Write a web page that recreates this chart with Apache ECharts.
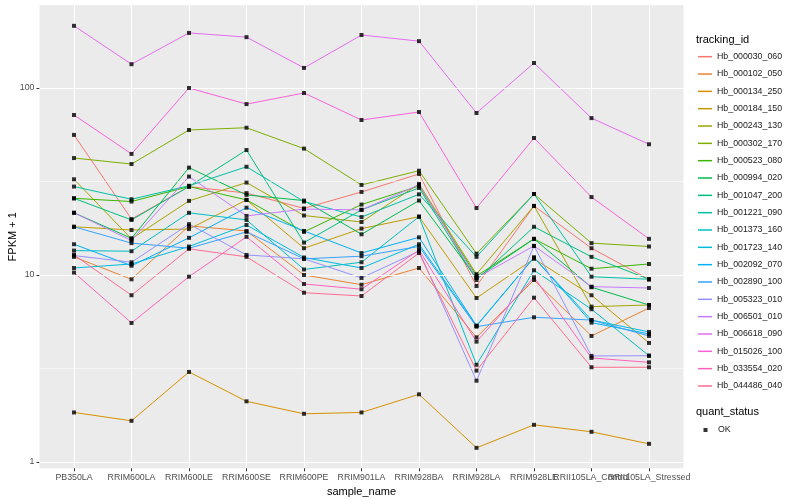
<!DOCTYPE html>
<html>
<head>
<meta charset="utf-8">
<script src="https://cdn.jsdelivr.net/npm/echarts@6/dist/echarts.min.js"></script>
<style>html,body{margin:0;padding:0;background:#fff}#c{width:800px;height:500px}</style>
</head>
<body>
<div id="c"></div>
<script>
const categories = ['PB350LA','RRIM600LA','RRIM600LE','RRIM600SE','RRIM600PE','RRIM901LA','RRIM928BA','RRIM928LA','RRIM928LE','RRII105LA_Control','RRII105LA_Stressed'];

const Hb_000030_060 = [56.1, 19.9, 29.7, 27.4, 22.7, 27.8, 34.7, 8.73, 23.4, 13.9, 9.48];
const Hb_000102_050 = [12.5, 9.48, 18.3, 17.2, 10.0, 8.87, 10.9, 4.64, 9.40, 4.72, 6.66];
const Hb_000134_250 = [1.84, 1.66, 3.03, 2.11, 1.81, 1.84, 2.30, 1.19, 1.58, 1.45, 1.25];
const Hb_000184_150 = [18.1, 17.4, 17.6, 25.2, 13.9, 17.7, 20.5, 7.53, 12.2, 7.79, 4.33];
const Hb_000243_130 = [32.5, 15.6, 24.9, 31.2, 20.8, 19.2, 30.7, 10.1, 23.4, 6.77, 6.91];
const Hb_000302_170 = [42.2, 39.2, 59.6, 61.3, 47.4, 30.3, 36.1, 13.0, 27.1, 14.8, 14.2];
const Hb_000523_080 = [25.7, 24.7, 29.7, 25.2, 17.0, 23.8, 29.9, 9.88, 15.6, 10.8, 11.45];
const Hb_000994_020 = [21.5, 15.7, 37.5, 26.8, 25.0, 16.5, 25.0, 9.64, 15.6, 8.60, 6.91];
const Hb_001047_200 = [25.7, 19.7, 29.7, 46.6, 14.9, 22.3, 29.2, 9.40, 18.1, 12.5, 9.48];
const Hb_001221_090 = [29.7, 25.4, 30.0, 37.9, 24.7, 20.4, 27.0, 12.5, 27.1, 9.79, 9.48];
const Hb_001373_160 = [13.5, 13.4, 21.5, 19.7, 10.7, 11.7, 20.5, 3.31, 10.6, 6.56, 3.70];
const Hb_001723_140 = [10.9, 11.45, 14.2, 18.5, 12.4, 10.9, 14.6, 5.34, 12.4, 5.74, 4.96];
const Hb_002092_070 = [14.6, 11.2, 15.8, 22.9, 17.2, 13.1, 15.9, 5.36, 12.4, 5.56, 4.84];
const Hb_002890_100 = [18.1, 14.8, 13.9, 17.0, 12.2, 12.6, 14.2, 5.29, 5.94, 5.74, 4.72];
const Hb_005323_010 = [12.7, 11.7, 18.7, 12.8, 12.2, 9.64, 13.4, 2.72, 14.3, 3.69, 3.70];
const Hb_006501_010 = [21.5, 15.3, 33.6, 20.7, 22.5, 22.3, 30.3, 9.64, 14.3, 8.66, 8.52];
const Hb_006618_090 = [215, 134, 197, 187, 128, 192, 178, 73.5, 136, 69, 50];
const Hb_015026_100 = [71.7, 44.4, 100, 82, 94, 67.4, 74.4, 22.8, 54, 26.1, 15.6];
const Hb_033554_020 = [10.3, 5.54, 9.79, 16.0, 8.95, 8.39, 13.6, 4.40, 9.72, 3.60, 3.41];
const Hb_044486_040 = [12.8, 7.79, 13.8, 12.5, 8.04, 7.72, 13.1, 3.08, 7.56, 3.21, 3.21];

const yTicks = [1, 10, 100];
const yMinor = [3.1623, 31.623];

const seriesList = [
  ['Hb_000030_060', Hb_000030_060, '#F8766D'],
  ['Hb_000102_050', Hb_000102_050, '#EA8331'],
  ['Hb_000134_250', Hb_000134_250, '#D89000'],
  ['Hb_000184_150', Hb_000184_150, '#C09B00'],
  ['Hb_000243_130', Hb_000243_130, '#A3A500'],
  ['Hb_000302_170', Hb_000302_170, '#7CAE00'],
  ['Hb_000523_080', Hb_000523_080, '#39B600'],
  ['Hb_000994_020', Hb_000994_020, '#00BB4E'],
  ['Hb_001047_200', Hb_001047_200, '#00BF7D'],
  ['Hb_001221_090', Hb_001221_090, '#00C1A3'],
  ['Hb_001373_160', Hb_001373_160, '#00BFC4'],
  ['Hb_001723_140', Hb_001723_140, '#00BAE0'],
  ['Hb_002092_070', Hb_002092_070, '#00B0F6'],
  ['Hb_002890_100', Hb_002890_100, '#35A2FF'],
  ['Hb_005323_010', Hb_005323_010, '#9590FF'],
  ['Hb_006501_010', Hb_006501_010, '#C77CFF'],
  ['Hb_006618_090', Hb_006618_090, '#E76BF3'],
  ['Hb_015026_100', Hb_015026_100, '#FA62DB'],
  ['Hb_033554_020', Hb_033554_020, '#FF62BC'],
  ['Hb_044486_040', Hb_044486_040, '#FF6C91']
];

const FONT = 'Liberation Sans, Arial, sans-serif';
const YMIN = 0.925, YMAX = 276.8;

const pointData = [];
seriesList.forEach(s => s[1].forEach((v, i) => pointData.push([categories[i], v])));

const chart = echarts.init(document.getElementById('c'), null, {renderer: 'canvas'});

const series = [{
  type: 'line', xAxisIndex: 0, yAxisIndex: 0, data: [], silent: true,
  markLine: {
    silent: true, symbol: ['none', 'none'], label: {show: false}, animation: false,
    emphasis: {disabled: true},
    data: yTicks.map(v => ({yAxis: v, lineStyle: {color: '#fff', width: 1.1, type: 'solid'}}))
      .concat(yMinor.map(v => ({yAxis: v, lineStyle: {color: '#fff', width: 0.55, type: 'solid'}})))
  }
}];
seriesList.forEach(s => series.push({
  name: s[0], type: 'line', xAxisIndex: 1, yAxisIndex: 1, data: s[1],
  showSymbol: false, symbol: 'none', animation: false,
  lineStyle: {color: s[2], width: 1}, itemStyle: {color: s[2]},
  emphasis: {disabled: true}
}));
series.push({
  name: 'OK', type: 'scatter', xAxisIndex: 1, yAxisIndex: 1, data: pointData,
  symbol: 'rect', symbolSize: 4, itemStyle: {color: '#000'}, z: 5, animation: false,
  emphasis: {disabled: true}
});

chart.setOption({
  backgroundColor: '#fff',
  textStyle: {fontFamily: FONT},
  animation: false,
  title: [
    {text: 'tracking_id', left: 696, top: 34, padding: 0, textStyle: {fontSize: 11, fontWeight: 'normal', color: '#000', fontFamily: FONT}},
    {text: 'quant_status', left: 696, top: 406, padding: 0, textStyle: {fontSize: 11, fontWeight: 'normal', color: '#000', fontFamily: FONT}}
  ],
  grid: [
    {left: 39.5, top: 5.3, width: 644, height: 463, show: true, backgroundColor: '#EBEBEB', borderWidth: 0,
     containLabel: false, outerBoundsMode: 'none'},
    {left: 74, top: 5.3, width: 575, height: 463, show: false, containLabel: false, outerBoundsMode: 'none'}
  ],
  xAxis: [
    {type: 'category', gridIndex: 0, data: categories, show: false},
    {type: 'category', gridIndex: 1, data: categories, boundaryGap: false,
     axisLine: {show: false},
     axisTick: {show: true, length: 3, lineStyle: {color: '#333', width: 1}},
     axisLabel: {interval: 0, color: '#4D4D4D', fontSize: 8.8, margin: 5, fontFamily: FONT},
     splitLine: {show: true, interval: 0, lineStyle: {color: '#fff', width: 1.1}},
     name: 'sample_name', nameLocation: 'middle', nameGap: 18, nameMoveOverlap: false,
     nameTextStyle: {fontSize: 11, color: '#000', fontFamily: FONT}}
  ],
  yAxis: [
    {type: 'log', gridIndex: 0, min: YMIN, max: YMAX,
     axisLine: {show: false},
     axisTick: {show: true, length: 3, lineStyle: {color: '#333', width: 1}, customValues: yTicks},
     axisLabel: {color: '#4D4D4D', fontSize: 8.8, margin: 5, customValues: yTicks, fontFamily: FONT},
     splitLine: {show: false}, minorSplitLine: {show: false},
     name: 'FPKM + 1', nameLocation: 'middle', nameGap: 21, nameRotate: 90, nameMoveOverlap: false,
     nameTextStyle: {fontSize: 11, color: '#000', fontFamily: FONT}},
    {type: 'log', gridIndex: 1, min: YMIN, max: YMAX, show: false, splitLine: {show: false}}
  ],
  legend: [
    {data: seriesList.map(s => ({name: s[0], itemStyle: {color: s[2]}, icon: 'rect'})),
     orient: 'vertical', left: 698, top: 51.7, itemWidth: 14, itemHeight: 1.5, itemGap: 7.33,
     selectedMode: false, padding: 0,
     textStyle: {fontSize: 8.8, color: '#1A1A1A', lineHeight: 10, fontFamily: FONT}},
    {data: [{name: 'OK', icon: 'rect', itemStyle: {color: '#000'}}],
     orient: 'vertical', left: 703.5, top: 425, itemWidth: 4, itemHeight: 4,
     selectedMode: false, padding: 0,
     textStyle: {fontSize: 8.8, color: '#1A1A1A', lineHeight: 10, padding: [0, 0, 0, 5.5], fontFamily: FONT}}
  ],
  series: series
});
</script>
</body>
</html>
